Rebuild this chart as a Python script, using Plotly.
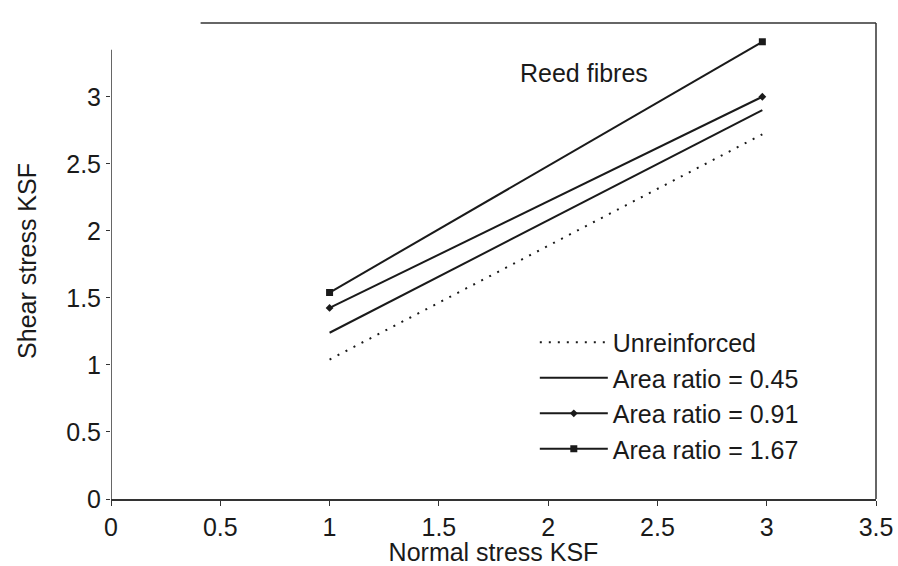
import plotly.graph_objects as go

normal_stress = [1.0, 2.98]
unreinforced = [1.04, 2.72]
area_045 = [1.24, 2.90]
area_091 = [1.425, 3.00]
area_167 = [1.54, 3.41]

x_ticks = [0, 0.5, 1, 1.5, 2, 2.5, 3, 3.5]
y_ticks = [0, 0.5, 1, 1.5, 2, 2.5, 3]

FONT = "Liberation Sans, Arial, sans-serif"
INK = "#1a1a1a"
FS = 25

fig = go.Figure()
fig.add_trace(go.Scatter(x=normal_stress, y=unreinforced, mode="lines", name="Unreinforced",
                         line=dict(color=INK, width=2, dash="2px,7px")))
fig.add_trace(go.Scatter(x=normal_stress, y=area_045, mode="lines", name="Area ratio = 0.45",
                         line=dict(color=INK, width=2)))
fig.add_trace(go.Scatter(x=normal_stress, y=area_091, mode="lines+markers", name="Area ratio = 0.91",
                         line=dict(color=INK, width=2), marker=dict(symbol="diamond", size=6, color=INK)))
fig.add_trace(go.Scatter(x=normal_stress, y=area_167, mode="lines+markers", name="Area ratio = 1.67",
                         line=dict(color=INK, width=2), marker=dict(symbol="square", size=7, color=INK)))

fig.add_annotation(x=2.165, y=3.18, text="Reed fibres", showarrow=False,
                   font=dict(family=FONT, size=FS, color=INK))

# frame pieces (scanned-style partial box)
fig.add_shape(type="line", xref="x", yref="y", x0=0, x1=0, y0=0, y1=3.35,
              line=dict(color="#333", width=1.5))
fig.add_shape(type="line", xref="x", yref="paper", x0=0.41, x1=3.5, y0=1, y1=1,
              line=dict(color="#333", width=1.5))
fig.add_shape(type="line", xref="paper", yref="paper", x0=1, x1=1, y0=0, y1=1,
              line=dict(color="#333", width=1.5))

fig.update_layout(
    width=898, height=566,
    margin=dict(l=111, r=22, t=23, b=67),
    paper_bgcolor="white", plot_bgcolor="white",
    font=dict(family=FONT, size=FS, color=INK),
    showlegend=True,
    legend=dict(x=0.554, y=0.377, xanchor="left", yanchor="top",
                bgcolor="rgba(0,0,0,0)", font=dict(size=FS, family=FONT, color=INK),
                tracegroupgap=0, itemwidth=68),
    xaxis=dict(range=[0, 3.5], tickvals=x_ticks, ticktext=[f"{v:g}" for v in x_ticks],
               showgrid=False, zeroline=False, showline=True, linecolor="#333", linewidth=1.5,
               ticks="outside", ticklen=5, tickcolor="#333", automargin=False,
               tickfont=dict(size=FS),
               title=dict(text="Normal stress KSF", font=dict(size=FS), standoff=11)),
    yaxis=dict(range=[0, 3.55], tickvals=y_ticks, ticktext=[f"{v:g}" for v in y_ticks],
               showgrid=False, zeroline=False, showline=False, automargin=False,
               ticks="outside", ticklen=4, tickcolor="#333",
               tickfont=dict(size=FS),
               title=dict(text="Shear stress KSF", font=dict(size=FS), standoff=22)),
)

fig.write_html("out.html")
